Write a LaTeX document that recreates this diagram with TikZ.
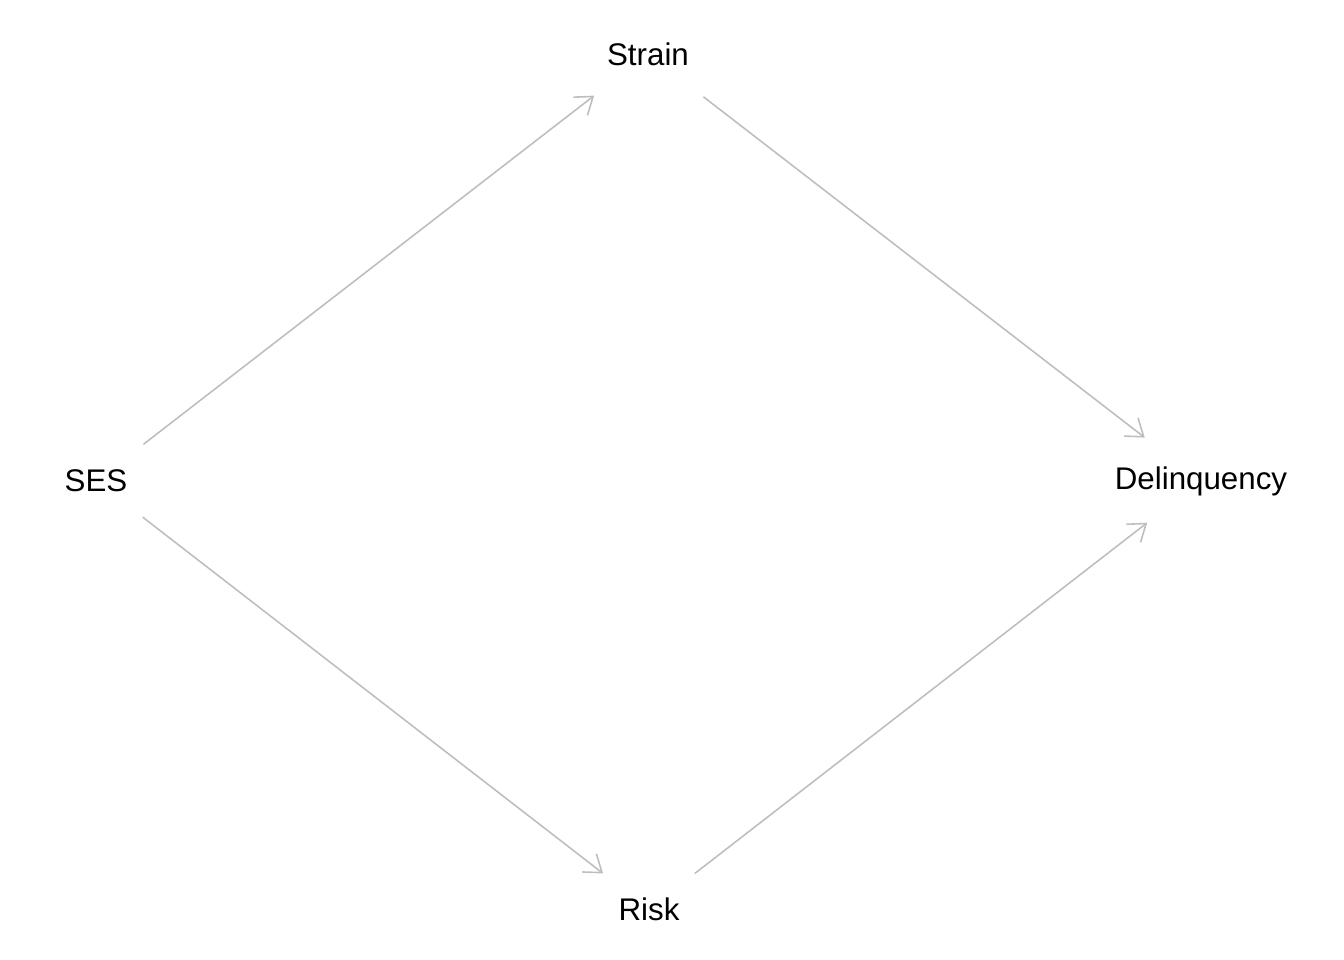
\documentclass[tikz,border=0pt]{standalone}
\usepackage{fontspec}
\setmainfont{Liberation Sans}
\usetikzlibrary{arrows.meta}
\definecolor{linkgray}{RGB}{190, 190, 190}

\begin{document}
\begin{tikzpicture}[
    x=0.01cm, y=-0.01cm,
    every node/.style={font=\fontsize{8.9}{10}\selectfont, text=black},
    var/.style={inner sep=0pt},
    link/.style={-{Straight Barb[length=1.6mm, width=2.3mm]}, draw=linkgray, line width=0.45pt}
]
\useasboundingbox (0,0) rectangle (1344,960);
\node[var] (ses) at (96,481) {SES};
\node[var] (strain) at (648,54) {Strain};
\node[var] (risk) at (649,909) {Risk};
\node[var] (delinq) at (1201,481) {Delinquency};
\draw[link, shorten <=0.6cm, shorten >=0.68cm] (ses.center) -- (strain.center);
\draw[link, shorten <=0.7cm, shorten >=0.71cm] (strain.center) -- (delinq.center);
\draw[link, shorten <=0.59cm, shorten >=0.58cm] (ses.center) -- (risk.center);
\draw[link, shorten <=0.58cm, shorten >=0.68cm] (risk.center) -- (delinq.center);
\end{tikzpicture}
\end{document}
